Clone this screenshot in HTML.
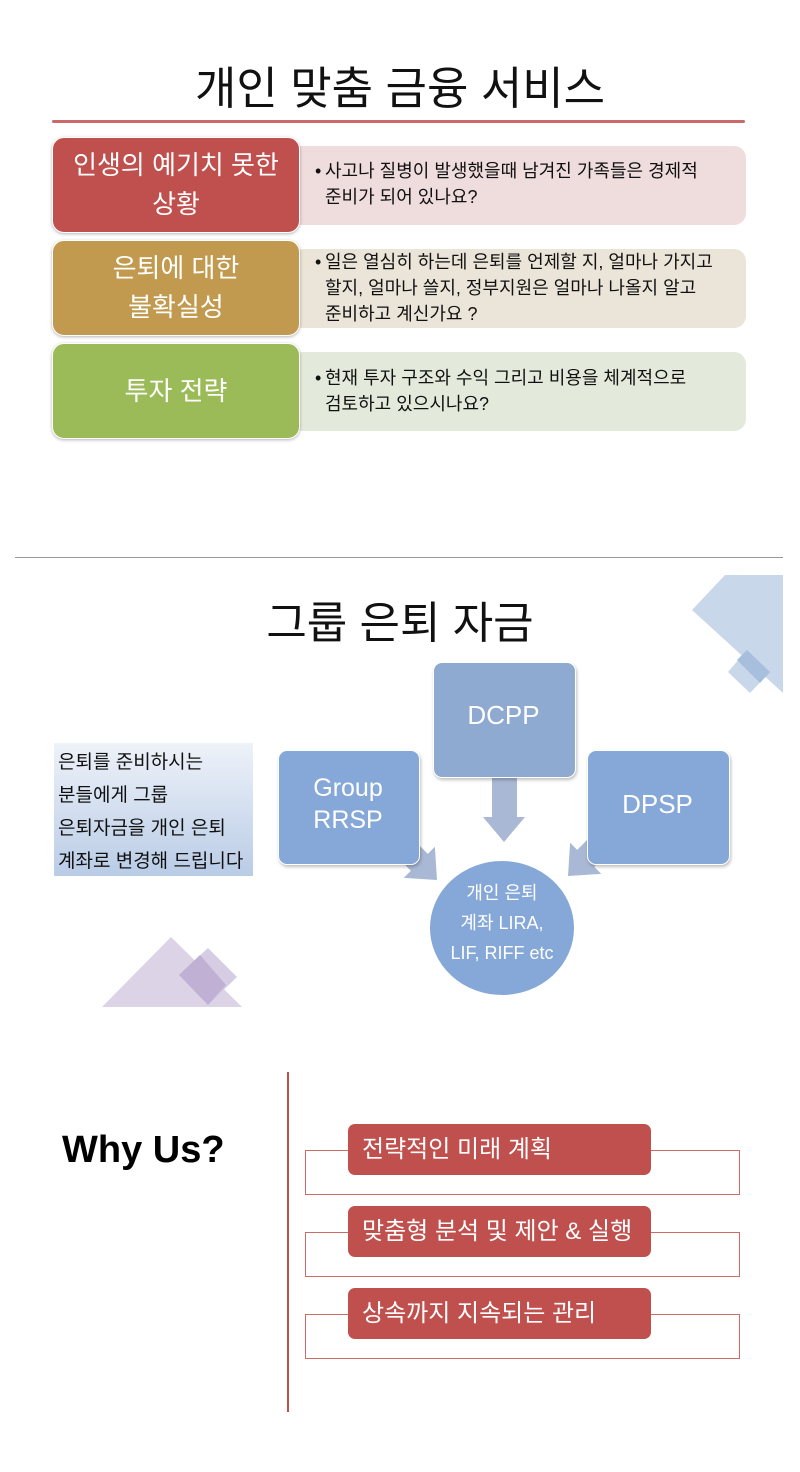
<!DOCTYPE html>
<html><head><meta charset="utf-8">
<style>
body{margin:0;background:#fff;}
#p{position:relative;width:800px;height:1472px;overflow:hidden;background:#fff;font-family:"Liberation Sans","Noto Sans CJK KR",sans-serif;}
.a{position:absolute;}
.t{position:absolute;white-space:nowrap;}
.lb{position:absolute;left:52px;width:248px;height:96px;border-radius:12px;color:#fff;font-size:26px;line-height:39px;display:flex;align-items:center;justify-content:center;text-align:center;box-shadow:0 1px 3px rgba(0,0,0,.3);border:1px solid #fff;box-sizing:border-box;}
.rb{position:absolute;left:290px;width:456px;height:79px;border-radius:12px;font-size:18px;line-height:26px;color:#111;box-sizing:border-box;padding:12px 0 0 35px;white-space:nowrap;}
.rb span{position:absolute;left:25px;}
.wb{position:absolute;left:348px;width:303px;height:51px;background:#c0504d;border-radius:7px;color:#fff;font-size:24px;line-height:51px;padding-left:14px;box-sizing:border-box;white-space:nowrap;}
.ol{position:absolute;left:305px;width:435px;height:45px;border:1.5px solid #cc6b68;box-sizing:border-box;}
</style></head><body><div id="p">

<div class="t" style="left:0;width:800px;text-align:center;top:60px;font-size:45px;line-height:58px;color:#111;">개인 맞춤 금융 서비스</div>
<div class="a" style="left:52px;top:120px;width:693px;height:3px;background:#c0504d;border-radius:2px;opacity:.85"></div>

<div class="rb" style="top:146px;background:#efdcdc;"><span>•</span>사고나 질병이 발생했을때 남겨진 가족들은 경제적<br>준비가 되어 있나요?</div>
<div class="lb" style="top:137px;background:#c0504d;">인생의 예기치 못한<br>상황</div>

<div class="rb" style="top:249px;background:#ebe4d8;padding-top:0;"><span>•</span>일은 열심히 하는데 은퇴를 언제할 지, 얼마나 가지고<br>할지, 얼마나 쓸지, 정부지원은 얼마나 나올지 알고<br>준비하고 계신가요 ?</div>
<div class="lb" style="top:240px;background:#c19a4f;">은퇴에 대한<br>불확실성</div>

<div class="rb" style="top:352px;background:#e4eadb;padding-top:13px;"><span>•</span>현재 투자 구조와 수익 그리고 비용을 체계적으로<br>검토하고 있으시나요?</div>
<div class="lb" style="top:343px;background:#9bbb59;">투자 전략</div>

<div class="a" style="left:15px;top:557px;width:768px;height:1px;background:#999;"></div>

<svg class="a" style="left:0;top:0" width="800" height="1472">
<polygon points="725,575 783,575 783,693 692,610" fill="#c9d7ea"/>
<polygon points="747,650 770,672 750,693 728,672" fill="#c9d7ea"/>
<polygon points="747,650 770,672 760,683 737,660" fill="#a8bedd"/>
<polygon points="102,1007 171,937 242,1007" fill="#dcd3e6"/>
<polygon points="208,948 237,977 208,1005 179,975" fill="#d6cce3"/>
<polygon points="200,955 226,985 208,1005 179,975" fill="#bfb0d4"/>
<polygon points="492,777 517,777 517,817 525,817 504,842 483,817 492,817" fill="#a9b8d4"/>
<polygon points="-12,-55 12,-55 12,-25 22,-25 0,0 -22,-25 -12,-25" fill="#a9b8d4" transform="translate(437,880) rotate(-45)"/>
<polygon points="-12,-55 12,-55 12,-25 22,-25 0,0 -22,-25 -12,-25" fill="#a9b8d4" transform="translate(568,876) rotate(45)"/>
<ellipse cx="502" cy="928" rx="73" ry="68" fill="#86a8d8" stroke="#fff" stroke-width="2"/>
</svg>
<div class="a" style="left:433px;top:662px;width:141px;height:114px;background:#8eaad0;border-radius:9px;border:1px solid #fff;box-shadow:1px 2px 3px rgba(0,0,0,.25);"></div>
<div class="a" style="left:278px;top:750px;width:140px;height:113px;background:#86a8d8;border-radius:9px;border:1px solid #fff;box-shadow:1px 2px 3px rgba(0,0,0,.25);"></div>
<div class="a" style="left:587px;top:750px;width:141px;height:113px;background:#86a8d8;border-radius:9px;border:1px solid #fff;box-shadow:1px 2px 3px rgba(0,0,0,.25);"></div>
<div class="t" style="left:433px;width:141px;text-align:center;top:700px;font-size:26px;color:#fff;">DCPP</div>
<div class="t" style="left:278px;width:140px;text-align:center;top:772px;font-size:25px;line-height:32px;color:#fff;">Group<br>RRSP</div>
<div class="t" style="left:587px;width:141px;text-align:center;top:789px;font-size:26px;color:#fff;">DPSP</div>
<div class="t" style="left:429px;width:146px;text-align:center;top:878px;font-size:18px;line-height:30px;color:#fff;">개인 은퇴<br>계좌 LIRA,<br>LIF, RIFF etc</div>

<div class="t" style="left:0;width:800px;text-align:center;top:595px;font-size:44px;line-height:58px;color:#111;">그룹 은퇴 자금</div>

<div class="a" style="left:54px;top:743px;width:199px;height:133px;background:linear-gradient(#eef2f9,#b9cce6);"></div>
<div class="t" style="left:58px;top:746px;font-size:19px;line-height:33px;color:#111;">은퇴를 준비하시는<br>분들에게 그룹<br>은퇴자금을 개인 은퇴<br>계좌로 변경해 드립니다</div>

<div class="t" style="left:62px;top:1129px;font-size:38px;font-weight:bold;color:#000;">Why Us?</div>
<div class="a" style="left:287px;top:1072px;width:2px;height:340px;background:#c0504d;"></div>

<div class="ol" style="top:1150px;"></div>
<div class="ol" style="top:1232px;"></div>
<div class="ol" style="top:1314px;"></div>
<div class="wb" style="top:1124px;">전략적인 미래 계획</div>
<div class="wb" style="top:1206px;">맞춤형 분석 및 제안 &amp; 실행</div>
<div class="wb" style="top:1288px;">상속까지 지속되는 관리</div>

</div></body></html>
